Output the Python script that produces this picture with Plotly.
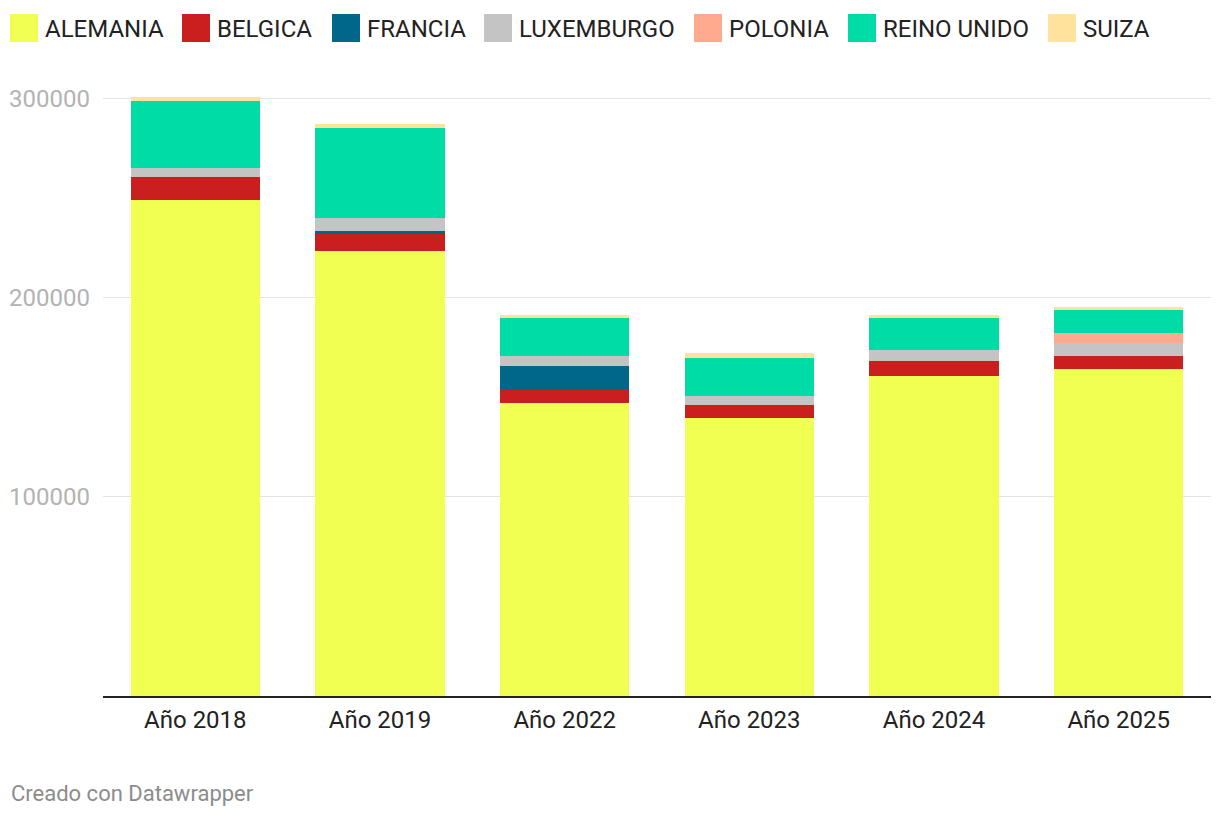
import plotly.graph_objects as go

categories = ["Año 2018", "Año 2019", "Año 2022", "Año 2023", "Año 2024", "Año 2025"]
series_names = ["ALEMANIA", "BELGICA", "FRANCIA", "LUXEMBURGO", "POLONIA", "REINO UNIDO", "SUIZA"]
alemania = [249200, 223600, 147200, 139700, 160800, 164300]
belgica = [11600, 8700, 6700, 6500, 7500, 6600]
francia = [0, 1400, 11900, 0, 0, 0]
luxemburgo = [4500, 6500, 5100, 4500, 5600, 6500]
polonia = [0, 0, 0, 0, 0, 5000]
reino_unido = [33700, 45200, 19000, 19100, 16500, 11600]
suiza = [2000, 2000, 1500, 2600, 1000, 1500]
y_ticks = [100000, 200000, 300000]

series_values = [alemania, belgica, francia, luxemburgo, polonia, reino_unido, suiza]
colors = ["#f0ff52", "#c91f1f", "#00678a", "#c4c4c4", "#ffaa8e", "#00dca6", "#ffe29b"]

OFF = 8  # page body margin
W, H = 1220 - OFF, 818 - OFF
# reference pixel layout
L_ref, R_ref, T_ref, B_ref = 103, 1211, 79, 696
L = L_ref - OFF
T = T_ref - OFF
R = W - (R_ref - OFF)
B = H - (B_ref - OFF)
pw = W - L - R
ph = H - T - B

fig = go.Figure()
for name, vals, col in zip(series_names, series_values, colors):
    fig.add_trace(go.Bar(x=categories, y=vals, name=name, marker=dict(color=col, line=dict(width=0)),
                         showlegend=False))

def px_x(p):
    return (p - OFF - L) / pw

def px_y(p):
    return 1 - (p - OFF - T) / ph

# manual legend
leg_sq = [10, 182, 332, 484, 694, 848, 1048]
shapes = []
annotations = []
for name, col, sx in zip(series_names, colors, leg_sq):
    shapes.append(dict(type="rect", xref="paper", yref="paper", x0=px_x(sx), x1=px_x(sx + 28),
                       y0=px_y(42), y1=px_y(14), fillcolor=col, line=dict(width=0), layer="above"))
    annotations.append(dict(xref="paper", yref="paper", x=px_x(sx + 33), y=px_y(28.5), text=name,
                            showarrow=False, xanchor="left", yanchor="middle",
                            font=dict(family="Roboto", size=24, color="#222222")))

annotations.append(dict(xref="paper", yref="paper", x=px_x(9), y=px_y(793), text="Creado con Datawrapper",
                        showarrow=False, xanchor="left", yanchor="middle",
                        font=dict(family="Roboto", size=22, color="#8c8c8c")))

fig.update_layout(
    barmode="stack",
    bargap=0.3,
    width=W, height=H,
    margin=dict(l=L, r=R, t=T, b=B, pad=0, autoexpand=False),
    paper_bgcolor="white",
    plot_bgcolor="white",
    font=dict(family="Roboto", size=24, color="#222222"),
    shapes=shapes,
    annotations=annotations,
    xaxis=dict(showline=True, linecolor="#222222", linewidth=1.5, ticks="", ticklabelstandoff=1,
               automargin=False, tickfont=dict(family="Roboto", size=24, color="#222222")),
    yaxis=dict(range=[0, 310000], tickvals=y_ticks, tickformat="d", showgrid=True, gridcolor="#e3e3e3",
               gridwidth=1, zeroline=False, showline=False, ticks="", ticklabelstandoff=12,
               automargin=False, tickfont=dict(family="Roboto", size=24, color="#b3b3b3")),
)

fig.write_html("out.html")
